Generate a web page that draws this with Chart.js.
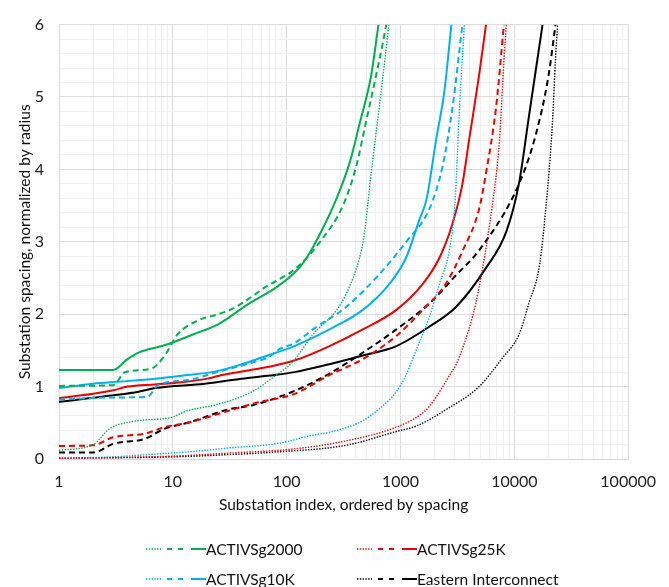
<!DOCTYPE html>
<html>
<head>
<meta charset="utf-8">
<title>Substation spacing</title>
<script src="https://cdn.jsdelivr.net/npm/chart.js@4/dist/chart.umd.min.js"></script>
<style>
    html, body { margin: 0; padding: 0; background: #fff; }
</style>
</head>
<body>
<canvas id="grafico" width="669" height="587"></canvas>
<script>
// Etiquetas de los ejes
const xTickLabels = [1, 10, 100, 1000, 10000, 100000];
const yTickLabels = [0, 1, 2, 3, 4, 5, 6];

// Sistemas (orden de la leyenda)
const systems = ["ACTIVSg2000", "ACTIVSg25K", "ACTIVSg10K", "Eastern Interconnect"];

// Valores [indice, espaciado]
const g2000Dotted = [[1,0.12],[2,0.2],[2.8,0.42],[4.5,0.52],[10,0.58],[13,0.66],[24,0.75],[50,0.93],[81,1.16],[113,1.34],[170,1.72],[273,2.05],[333,2.28],[437,2.78],[480,3.1],[553,3.95],[650,4.85],[740,5.6],[790,6.0]];
const g2000Dashed = [[1,1.01],[3,1.02],[3.8,1.2],[6.5,1.25],[8.5,1.43],[11,1.72],[17,1.92],[24,1.99],[34,2.08],[47,2.22],[66,2.38],[81,2.46],[122,2.64],[208,3.05],[312,3.5],[408,4.04],[500,4.67],[594,5.21],[700,5.75],[750,6.0]];
const g2000Solid = [[1,1.23],[3,1.23],[4,1.38],[5,1.47],[8,1.56],[10,1.61],[15,1.72],[25,1.86],[47,2.15],[81,2.37],[122,2.6],[150,2.78],[195,3.1],[273,3.59],[357,4.09],[437,4.63],[553,5.3],[640,6.0]];

const g10kDotted = [[1,0.01],[3,0.03],[9,0.08],[14,0.1],[30,0.15],[87,0.22],[170,0.33],[238,0.37],[467,0.53],[800,0.82],[920,0.93],[1120,1.16],[1370,1.5],[1800,1.97],[2200,2.42],[2700,2.9],[3000,3.5],[3300,4.85],[3640,6.0]];
const g10kDashed = [[1,0.82],[3,0.85],[6,0.86],[7.4,1.02],[13.5,1.09],[27,1.22],[52,1.34],[68,1.4],[87,1.52],[117,1.6],[170,1.79],[333,2.1],[650,2.55],[1120,3.0],[1800,3.46],[2340,4.04],[2860,4.85],[3500,6.0]];
const g10kSolid = [[1,0.98],[2,1.04],[3.5,1.07],[7,1.11],[13.5,1.16],[22,1.2],[37,1.29],[68,1.43],[117,1.56],[238,1.79],[467,2.06],[800,2.42],[1120,2.78],[1460,3.3],[1700,3.6],[2050,4.4],[2430,5.08],[2800,6.0]];

const g25kDotted = [[1,0.01],[3,0.02],[10,0.04],[30,0.08],[117,0.14],[333,0.25],[920,0.44],[1460,0.6],[1800,0.73],[2860,1.22],[3070,1.3],[4300,1.97],[4900,2.37],[6400,3.5],[7400,4.4],[8100,5.5],[8500,6.0]];
const g25kDashed = [[1,0.18],[2,0.19],[3,0.3],[5.7,0.35],[8.5,0.44],[13.5,0.5],[30,0.66],[52,0.77],[117,0.9],[238,1.16],[467,1.38],[920,1.7],[1570,2.06],[2500,2.42],[3500,2.87],[4900,3.45],[5640,3.95],[6900,4.85],[8100,6.0]];
const g25kSolid = [[1,0.84],[2,0.9],[3,0.95],[4,1.0],[7,1.03],[12,1.06],[20,1.11],[27,1.16],[68,1.27],[117,1.36],[238,1.56],[467,1.79],[920,2.06],[1570,2.42],[2200,2.78],[2860,3.25],[3500,3.8],[4000,4.4],[4900,5.3],[5640,6.0]];

const eiDotted = [[1,0.01],[10,0.03],[30,0.06],[87,0.1],[333,0.19],[920,0.38],[1400,0.46],[2500,0.68],[4900,1.0],[7900,1.4],[11000,1.72],[13400,2.15],[16700,2.69],[19000,3.5],[21600,4.63],[23000,5.53],[24000,6.0]];
const eiDashed = [[1,0.09],[2,0.09],[3,0.21],[5.7,0.28],[8.5,0.42],[13.5,0.5],[30,0.68],[52,0.75],[117,0.94],[238,1.18],[467,1.47],[920,1.79],[1800,2.15],[3000,2.52],[5000,2.9],[11000,3.8],[15500,4.49],[20000,5.3],[23000,6.0]];
const eiSolid = [[1,0.79],[3,0.88],[5,0.93],[7,0.98],[19,1.04],[40,1.11],[78,1.16],[117,1.2],[238,1.31],[467,1.43],[920,1.56],[1800,1.83],[3070,2.1],[5640,2.64],[8500,3.14],[11000,3.81],[13400,4.72],[15500,5.39],[17700,6.0]];

// Estilos
const FONT = "Lato, 'Open Sans', sans-serif";
const colores = {
    "ACTIVSg2000": "#00b050",
    "ACTIVSg25K": "#ee0000",
    "ACTIVSg10K": "#00b0f0",
    "Eastern Interconnect": "#000000"
};
const estilos = {
    dotted: { borderWidth: 1.4, borderDash: [1.4, 1.4] },
    dashed: { borderWidth: 2, borderDash: [6, 4] },
    solid: { borderWidth: 2, borderDash: [] }
};

const seriesPorSistema = {
    "ACTIVSg2000": { dotted: g2000Dotted, dashed: g2000Dashed, solid: g2000Solid },
    "ACTIVSg25K": { dotted: g25kDotted, dashed: g25kDashed, solid: g25kSolid },
    "ACTIVSg10K": { dotted: g10kDotted, dashed: g10kDashed, solid: g10kSolid },
    "Eastern Interconnect": { dotted: eiDotted, dashed: eiDashed, solid: eiSolid }
};

function crearDataset(sistema, tipo) {
    return {
        label: sistema + " " + tipo,
        data: seriesPorSistema[sistema][tipo].map(p => ({ x: p[0], y: p[1] })),
        borderColor: colores[sistema],
        backgroundColor: colores[sistema],
        borderWidth: estilos[tipo].borderWidth,
        borderDash: estilos[tipo].borderDash,
        pointRadius: 0,
        fill: false,
        cubicInterpolationMode: "monotone"
    };
}

const datasets = [];
["dotted", "dashed", "solid"].forEach(tipo => {
    systems.forEach(s => datasets.push(crearDataset(s, tipo)));
});

// Ticks menores del eje logaritmico (1..9 por decada)
function ticksLog() {
    const ticks = [];
    xTickLabels.forEach(d => {
        for (let k = 1; k <= 9; k++) {
            const v = k * d;
            if (v <= xTickLabels[xTickLabels.length - 1]) ticks.push({ value: v });
        }
    });
    return ticks;
}

const esEntero = v => Math.abs(v - Math.round(v)) < 1e-6;

// Leyenda con las tres muestras de linea por sistema
const leyendaTriple = {
    id: "leyendaTriple",
    afterDraw(chart) {
        const ctx = chart.ctx;
        const cols = [146, 357];
        const filas = [549, 579];
        systems.forEach((s, i) => {
            const x0 = cols[i % 2];
            const y = filas[Math.floor(i / 2)];
            ctx.save();
            ctx.strokeStyle = colores[s];
            ctx.lineCap = "butt";
            // punteada
            ctx.lineWidth = 1.4;
            ctx.setLineDash([1.4, 1.4]);
            ctx.beginPath(); ctx.moveTo(x0, y); ctx.lineTo(x0 + 15, y); ctx.stroke();
            // discontinua
            ctx.lineWidth = 2;
            ctx.setLineDash([5, 6]);
            ctx.beginPath(); ctx.moveTo(x0 + 21, y); ctx.lineTo(x0 + 37, y); ctx.stroke();
            // continua
            ctx.setLineDash([]);
            ctx.beginPath(); ctx.moveTo(x0 + 45, y); ctx.lineTo(x0 + 60, y); ctx.stroke();
            ctx.fillStyle = "#111";
            ctx.font = "15.5px " + FONT;
            ctx.textBaseline = "middle";
            ctx.fillText(s, x0 + 60, y + 1);
            ctx.restore();
        });
    }
};

const ctx = document.getElementById("grafico").getContext("2d");
window.myChart = new Chart(ctx, {
    type: "line",
    data: { datasets: datasets },
    options: {
        responsive: false,
        animation: false,
        layout: { padding: { left: 0, right: 39, top: 15, bottom: 66 } },
        plugins: {
            legend: { display: false },
            tooltip: { enabled: false }
        },
        scales: {
            x: {
                type: "logarithmic",
                min: 1,
                max: 100000,
                afterBuildTicks: scale => { scale.ticks = ticksLog(); },
                afterFit: scale => { scale.height = 62; },
                grid: {
                    drawTicks: false,
                    color: c => xTickLabels.includes(c.tick && c.tick.value) ? "#dcdcdc" : "#f0f0f0"
                },
                border: { color: "#d9d9d9" },
                ticks: {
                    autoSkip: false,
                    maxRotation: 0,
                    padding: 13,
                    color: "#222",
                    font: { family: FONT, size: 16 },
                    callback: v => xTickLabels.includes(v) ? String(v) : ""
                },
                title: {
                    display: true,
                    text: "Substation index, ordered by spacing",
                    color: "#111",
                    font: { family: FONT, size: 15.5 },
                    padding: { top: 0, bottom: 7 }
                }
            },
            y: {
                type: "linear",
                min: 0,
                max: 6,
                afterFit: scale => { scale.width = 59; },
                grid: {
                    drawTicks: false,
                    color: c => esEntero(c.tick.value) ? "#dcdcdc" : "#f0f0f0"
                },
                border: { color: "#d9d9d9" },
                ticks: {
                    stepSize: 0.2,
                    autoSkip: false,
                    padding: 15,
                    color: "#222",
                    font: { family: FONT, size: 16 },
                    callback: v => (esEntero(v) && yTickLabels.includes(Math.round(v))) ? String(Math.round(v)) : ""
                },
                title: {
                    display: true,
                    text: "Substation spacing, normalized by radius",
                    color: "#111",
                    font: { family: FONT, size: 15.5 },
                    padding: { top: 16, bottom: 0 }
                }
            }
        }
    },
    plugins: [leyendaTriple]
});
</script>
</body>
</html>
